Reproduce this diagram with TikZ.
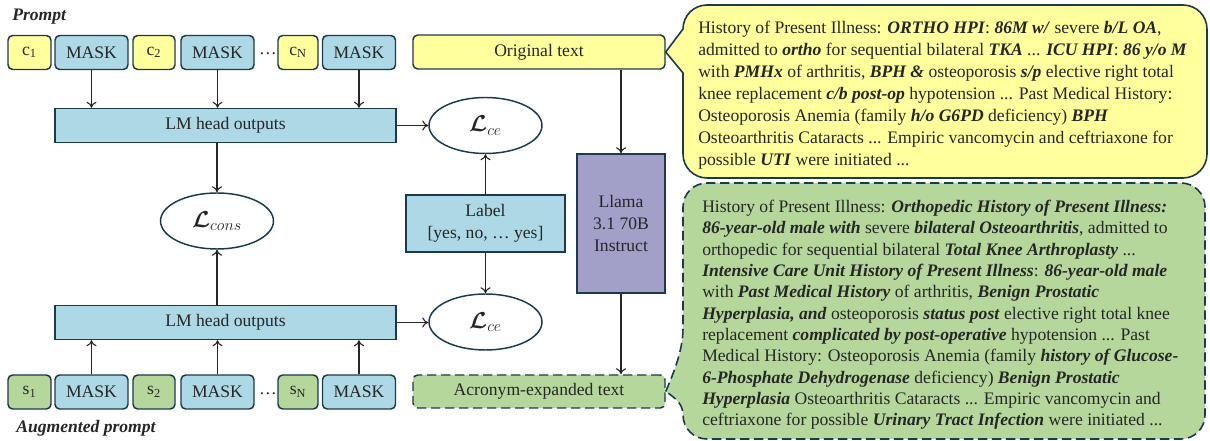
\documentclass[tikz,border=0pt]{standalone}
\usepackage{amsmath,bm}
\usepackage{fontspec}
\setmainfont{Liberation Serif}
\usetikzlibrary{arrows.meta,shapes.geometric}
\definecolor{bd}{HTML}{1B3A4B}
\definecolor{yel}{HTML}{FFFF9C}
\definecolor{lblue}{HTML}{ADD8E6}
\definecolor{lgreen}{HTML}{B6D79C}
\definecolor{purp}{HTML}{A29FC8}
\definecolor{txt}{HTML}{262626}
\newcommand{\bi}[1]{\textbf{\textit{#1}}}
\begin{document}
\begin{tikzpicture}[x=0.75pt,y=-0.75pt,
  font=\fontsize{13.2pt}{16.5pt}\selectfont,
  box/.style={draw=bd, line width=1.1pt, inner sep=0pt, text=txt},
  tok/.style={box, rounded corners=3.5pt, minimum height=25.5pt},
  ctok/.style={tok, fill=yel},
  stok/.style={tok, fill=lgreen},
  mtok/.style={tok, fill=lblue, minimum width=54.75pt},
  lmbox/.style={box, fill=lblue, minimum width=255.75pt, minimum height=25.5pt},
  loss/.style={box, ellipse, fill=white, minimum width=84.75pt, minimum height=42pt, font=\fontsize{17pt}{20pt}\selectfont},
  arr/.style={-{To[length=4.5pt,width=7.5pt]}, line width=0.8pt, draw=txt},
  lbl/.style={font=\fontsize{13.2pt}{16.5pt}\selectfont\bfseries\itshape, text=txt, anchor=west, inner sep=0pt},
  callout/.style={draw=bd, line width=1.2pt},
  ctext/.style={text=txt, align=left, anchor=north west, inner sep=0pt}
]
\useasboundingbox (0,0) rectangle (1210,441);

% prompt labels
\node[lbl] (ptitle) at (12,17) {Prompt};
\node[lbl] (atitle) at (16,428) {Augmented prompt};

% top tokens
\node[ctok, minimum width=32.25pt] (c1) at (29.5,52.5) {c\textsubscript{1}};
\node[mtok] (m1) at (91.5,52.5) {MASK};
\node[ctok, minimum width=31.5pt] (c2) at (154,52.5) {c\textsubscript{2}};
\node[mtok] (m2) at (217.5,52.5) {MASK};
\node[text=txt, inner sep=0pt] (d1) at (268,54) {…};
\node[ctok, minimum width=30pt] (cN) at (298,52.5) {c\textsubscript{N}};
\node[mtok] (m3) at (359,52.5) {MASK};

% bottom tokens
\node[stok, minimum width=32.25pt] (s1) at (29.5,392) {s\textsubscript{1}};
\node[mtok] (n1) at (91.5,392) {MASK};
\node[stok, minimum width=31.5pt] (s2) at (154,392) {s\textsubscript{2}};
\node[mtok] (n2) at (217.5,392) {MASK};
\node[text=txt, inner sep=0pt] (d2) at (268,394) {…};
\node[stok, minimum width=30pt] (sN) at (298,392) {s\textsubscript{N}};
\node[mtok] (n3) at (359,392) {MASK};

% LM heads
\node[lmbox] (lm1) at (225.5,125.5) {LM head outputs};
\node[lmbox] (lm2) at (225.5,322.5) {LM head outputs};

% losses
\node[loss] (cons) at (217,221) {$\bm{\mathcal{L}}_{cons}$};
\node[loss] (ce1) at (485.5,125.5) {$\bm{\mathcal{L}}_{ce}$};
\node[loss] (ce2) at (485.5,322) {$\bm{\mathcal{L}}_{ce}$};

% label
\node[box, fill=lblue, minimum width=119.25pt, minimum height=42.75pt, align=center] (label) at (485.5,223.5) {Label\\{[yes, no, … yes]}};

% text boxes
\node[box, fill=yel, rounded corners=3.5pt, minimum width=189pt, minimum height=25.5pt] (orig) at (539,52) {Original text};
\node[box, fill=lgreen, rounded corners=3.5pt, dash pattern=on 7pt off 3.5pt, minimum width=189pt, minimum height=24.75pt] (acr) at (539,391.5) {Acronym-expanded text};
\node[box, fill=purp, minimum width=66pt, minimum height=104.25pt, align=center] (llama) at (621,223.5) {Llama\\3.1 70B\\Instruct};

% arrows
\foreach \m in {m1,m2,m3} \draw[arr] (\m.south) -- (\m.south |- lm1.north);
\foreach \m in {n1,n2,n3} \draw[arr] (\m.north) -- (\m.north |- lm2.south);
\draw[arr] (cons |- lm1.south) -- (cons.north);
\draw[arr] (cons |- lm2.north) -- (cons.south);
\draw[arr] (lm1.east) -- (ce1.west);
\draw[arr] (lm2.east) -- (lm2.east -| ce2.west);
\draw[arr] (label.north) -- (ce1.south);
\draw[arr] (label.south) -- (ce2.north);
\draw[arr] (llama.north |- orig.south) -- (llama.north);
\draw[arr] (llama.south) -- (llama.south |- acr.north);

% yellow callout
\path[callout, fill=yel, draw=bd] (orig.east) -- (683,29) .. controls (683,15.7) and (693.7,5) .. (707,5) -- (1183,5) .. controls (1196.3,5) and (1207,15.7) .. (1207,29) -- (1207,154) .. controls (1207,167.3) and (1196.3,178) .. (1183,178) -- (707,178) .. controls (693.7,178) and (683,167.3) .. (683,154) -- (683,73) -- cycle;
\node[ctext] (ytext) at (698,21) {History of Present Illness: \bi{ORTHO HPI}: \bi{86M w/} severe \bi{b/L OA},\\
admitted to \bi{ortho} for sequential bilateral \bi{TKA} ... \bi{ICU HPI}: \bi{86 y/o M}\\
with \bi{PMHx} of arthritis, \bi{BPH \&} osteoporosis \bi{s/p} elective right total\\
knee replacement \bi{c/b post-op} hypotension ... Past Medical History:\\
Osteoporosis Anemia (family \bi{h/o G6PD} deficiency) \bi{BPH}\\
Osteoarthritis Cataracts ... Empiric vancomycin and ceftriaxone for\\
possible \bi{UTI} were initiated ...};

% green callout
\path[callout, fill=lgreen, draw=bd, dash pattern=on 7pt off 3.5pt] (acr.east) .. controls (674,372) and (683,350) .. (683,328) -- (683,207) .. controls (683,193.7) and (693.7,183) .. (707,183) -- (1181,183) .. controls (1194.3,183) and (1205,193.7) .. (1205,207) -- (1205,415) .. controls (1205,428.3) and (1194.3,439) .. (1181,439) -- (707,439) .. controls (693.7,439) and (683,428.3) .. (683,415) .. controls (683,405) and (677,399) .. cycle;
\node[ctext, font=\fontsize{13.2pt}{16pt}\selectfont] (gtext) at (702,200) {History of Present Illness: \bi{Orthopedic History of Present Illness:}\\
\bi{86-year-old male with} severe \bi{bilateral Osteoarthritis}, admitted to\\
orthopedic for sequential bilateral \bi{Total Knee Arthroplasty} ...\\
\bi{Intensive Care Unit History of Present Illness}: \bi{86-year-old male}\\
with \bi{Past Medical History} of arthritis, \bi{Benign Prostatic}\\
\bi{Hyperplasia, and} osteoporosis \bi{status post} elective right total knee\\
replacement \bi{complicated by post-operative} hypotension ... Past\\
Medical History: Osteoporosis Anemia (family \bi{history of Glucose-}\\
\bi{6-Phosphate Dehydrogenase} deficiency) \bi{Benign Prostatic}\\
\bi{Hyperplasia} Osteoarthritis Cataracts ... Empiric vancomycin and\\
ceftriaxone for possible \bi{Urinary Tract Infection} were initiated ...};
\end{tikzpicture}
\end{document}
